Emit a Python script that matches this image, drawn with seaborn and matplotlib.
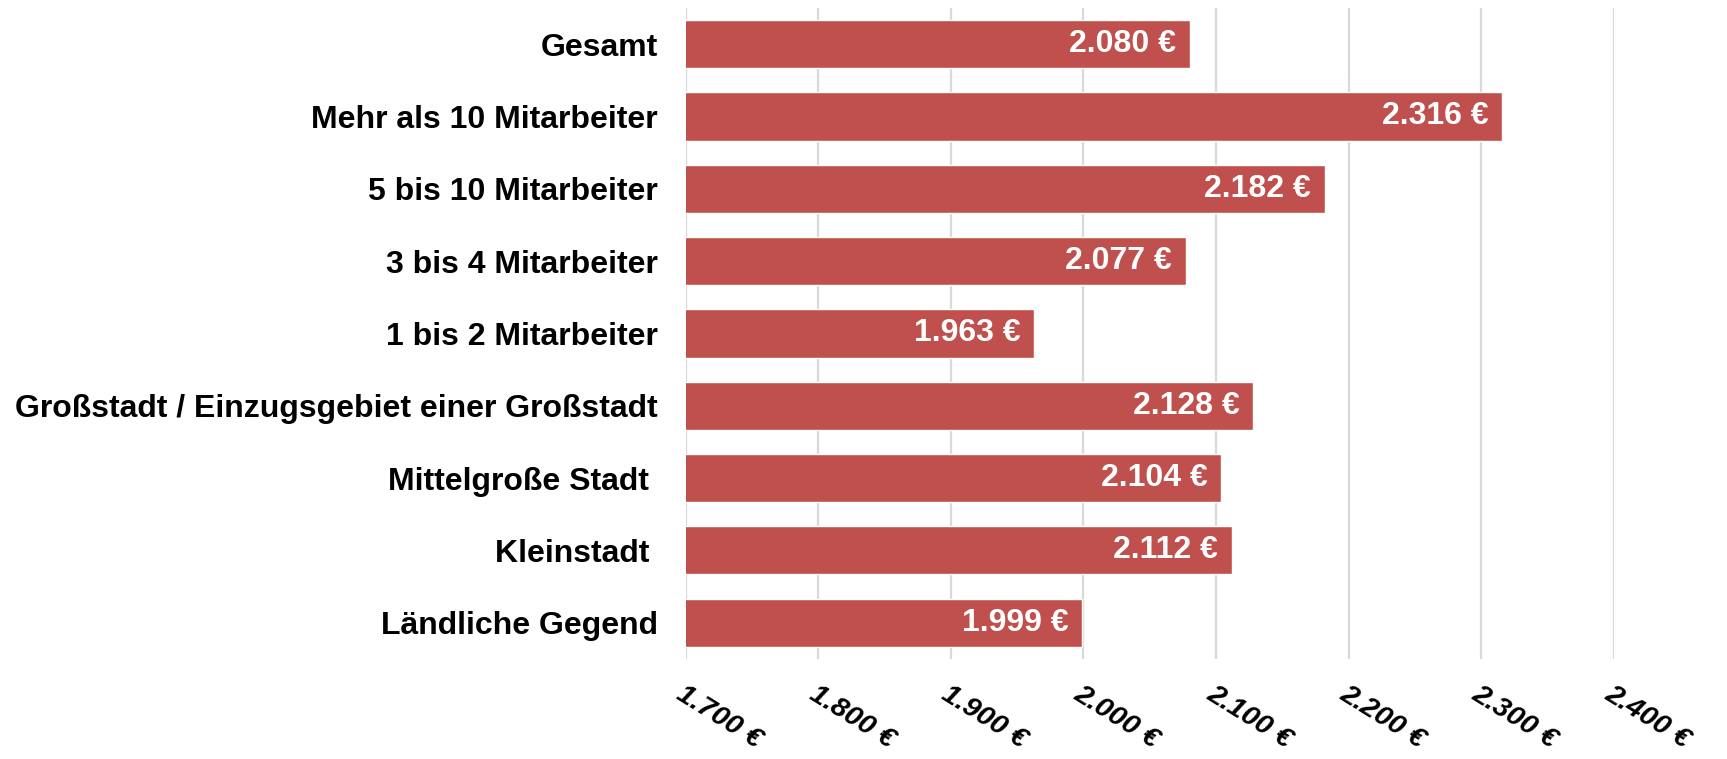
import matplotlib
matplotlib.use("Agg")
import matplotlib.pyplot as plt
import seaborn as sns
import pandas as pd
from matplotlib.ticker import FuncFormatter

# chart data
categories = ["Gesamt", "Mehr als 10 Mitarbeiter", "5 bis 10 Mitarbeiter",
              "3 bis 4 Mitarbeiter", "1 bis 2 Mitarbeiter",
              "Großstadt / Einzugsgebiet einer Großstadt",
              "Mittelgroße Stadt ", "Kleinstadt ", "Ländliche Gegend"]
values = [2080, 2316, 2182, 2077, 1963, 2128, 2104, 2112, 1999]
x_ticks = [1700, 1800, 1900, 2000, 2100, 2200, 2300, 2400]

def euro(v):
    return f"{int(v):,}".replace(",", ".") + " €"

df = pd.DataFrame({"kategorie": categories, "wert": values})

sns.set_style("white")
plt.rcParams["font.family"] = ["Liberation Sans", "DejaVu Sans"]
plt.rcParams["text.color"] = "black"
plt.rcParams["xtick.color"] = "black"
plt.rcParams["ytick.color"] = "black"

fig = plt.figure(figsize=(17.27, 7.59), dpi=100)
ax = fig.add_axes([0.397, 0.132, 0.5375, 0.8575])

sns.barplot(data=df, x="wert", y="kategorie", color="#C0504D",
            width=0.667, saturation=1, ax=ax, zorder=2)

ax.set_xlim(1700, 2400)
ax.set_xticks(x_ticks)
ax.xaxis.set_major_formatter(FuncFormatter(lambda v, p: euro(v)))
ax.grid(axis="x", color="#D9D9D9", linewidth=1.6, zorder=0)
ax.set_axisbelow(True)
for s in ax.spines.values():
    s.set_visible(False)

ax.set_xlabel("")
ax.set_ylabel("")
ax.tick_params(axis="y", length=0, pad=20, labelsize=23)
ax.tick_params(axis="x", length=0, pad=16)
for lab in ax.get_yticklabels():
    lab.set_fontweight("bold")
for lab in ax.get_xticklabels():
    lab.set_fontweight("bold")
    lab.set_fontstyle("italic")
    lab.set_fontsize(20.5)
    lab.set_rotation(-32)
    lab.set_ha("left")
    lab.set_va("top")
    lab.set_rotation_mode("anchor")

# value labels inside the bars
for i, v in enumerate(values):
    ax.annotate(euro(v), xy=(v, i), xytext=(-10, 0), textcoords="offset points",
                ha="right", va="center", color="white", fontsize=23,
                fontweight="bold", zorder=3)

plt.savefig("out.png", dpi=100)
